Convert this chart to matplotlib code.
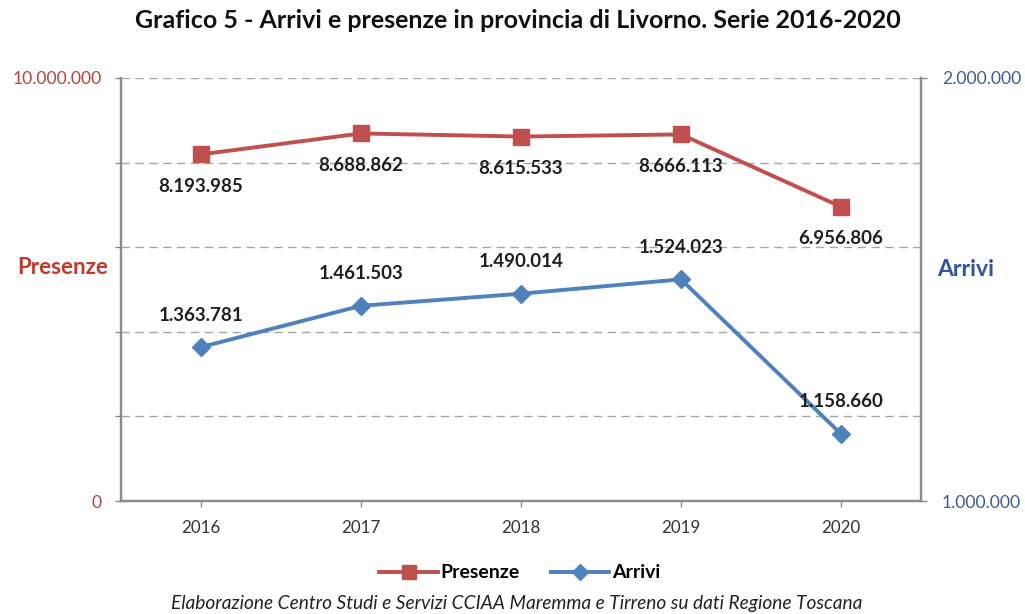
import matplotlib
matplotlib.use("Agg")
import matplotlib.pyplot as plt
from matplotlib.ticker import FixedLocator, FuncFormatter
from matplotlib.lines import Line2D

# Data
years = ["2016", "2017", "2018", "2019", "2020"]
presenze = [8193985, 8688862, 8615533, 8666113, 6956806]
arrivi = [1363781, 1461503, 1490014, 1524023, 1158660]

title = "Grafico 5 - Arrivi e presenze in provincia di Livorno. Serie 2016-2020"
source = "Elaborazione Centro Studi e Servizi CCIAA Maremma e Tirreno su dati Regione Toscana"

RED = "#C0504D"
BLUE = "#4F81BD"
GRID = "#A6A6A6"
AXIS = "#8C8C8C"

plt.rcParams["font.family"] = ["Lato", "DejaVu Sans"]


def it_fmt(v):
    return f"{int(round(v)):,}".replace(",", ".")


fig = plt.figure(figsize=(10.25, 6.14), dpi=100)
ax = fig.add_axes([0.118, 0.184, 0.7805, 0.689])
ax2 = ax.twinx()

x = list(range(len(years)))

# Left axis: Presenze
ax.set_ylim(0, 10_000_000)
ax.set_xlim(-0.5, len(years) - 0.5)
ax.yaxis.set_major_locator(FixedLocator([0, 2e6, 4e6, 6e6, 8e6, 10e6]))
ax.yaxis.set_major_formatter(FuncFormatter(
    lambda v, p: it_fmt(v) if v in (0, 10e6) else ""))
ax.grid(axis="y", color=GRID, linestyle=(0, (6, 4)), linewidth=1.0)
ax.set_axisbelow(True)

# Right axis: Arrivi
ax2.set_ylim(1_000_000, 2_000_000)
ax2.yaxis.set_major_locator(FixedLocator([1e6, 2e6]))
ax2.yaxis.set_major_formatter(FuncFormatter(lambda v, p: it_fmt(v)))

for a in (ax, ax2):
    a.spines["top"].set_visible(False)
    for s in ("left", "right", "bottom"):
        a.spines[s].set_color(AXIS)
        a.spines[s].set_linewidth(1.6)

ax.tick_params(axis="y", colors=AXIS, length=4, width=1, labelsize=12.6,
               labelcolor="#B4443F", pad=10)
ax2.tick_params(axis="y", colors=AXIS, length=4, width=1, labelsize=12.6,
                labelcolor="#3E5C94", pad=11)
ax.set_xticks(x)
ax.set_xticklabels(years)
ax.tick_params(axis="x", colors=AXIS, length=4, width=1, labelsize=12.2,
               labelcolor="#333333", pad=10)

# Series
ax.plot(x, presenze, color=RED, linewidth=2.8, marker="s", markersize=11,
        markerfacecolor=RED, markeredgecolor=RED, zorder=3)
ax2.plot(x, arrivi, color=BLUE, linewidth=2.8, marker="D", markersize=9,
         markerfacecolor=BLUE, markeredgecolor=BLUE, zorder=3)

for xi, v in zip(x, presenze):
    ax.annotate(it_fmt(v), (xi, v), xytext=(0, -23), textcoords="offset points",
                ha="center", va="center", fontsize=13.5, fontweight="bold",
                color="#1F1F1F")
for xi, v in zip(x, arrivi):
    ax2.annotate(it_fmt(v), (xi, v), xytext=(0, 23), textcoords="offset points",
                 ha="center", va="center", fontsize=13.5, fontweight="bold",
                 color="#1F1F1F")

# Axis titles
fig.text(63 / 1025, 1 - 268 / 614, "Presenze", ha="center", va="center",
         fontsize=16, fontweight="bold", color="#C0392B")
fig.text(966 / 1025, 1 - 270 / 614, "Arrivi", ha="center", va="center",
         fontsize=16.5, fontweight="bold", color="#2E5597")

# Title
fig.text(518 / 1025, 1 - 21 / 614, title, ha="center", va="center",
         fontsize=18, fontweight="bold", color="#111111")

# Legend
handles = [
    Line2D([], [], color=RED, linewidth=2.8, marker="s", markersize=10),
    Line2D([], [], color=BLUE, linewidth=2.8, marker="D", markersize=8),
]
fig.legend(handles, ["Presenze", "Arrivi"], loc="center",
           bbox_to_anchor=(520 / 1025, 1 - 573 / 614), ncol=2, frameon=False,
           prop={"weight": "bold", "size": 14}, handlelength=3.0,
           handletextpad=0.15, columnspacing=1.6)

# Source note
fig.text(517 / 1025, 1 - 603 / 614, source, ha="center", va="center",
         fontsize=13.8, style="italic", color="#222222")

fig.savefig("out.png", dpi=100)
